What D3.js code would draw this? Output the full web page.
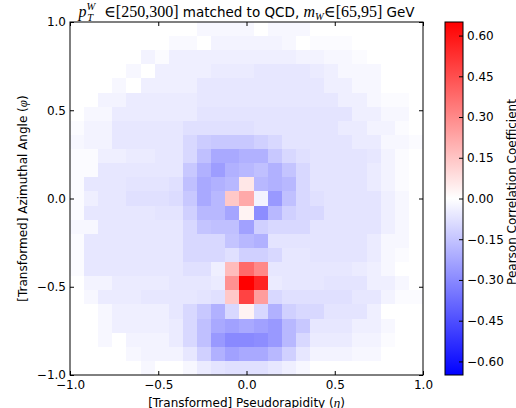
<!DOCTYPE html>
<html>
<head>
<meta charset="utf-8">
<script src="https://cdn.jsdelivr.net/npm/d3@7"></script>
<style>
  html, body { margin: 0; padding: 0; background: #ffffff; }
  svg { display: block; }
  text { font-family: "DejaVu Sans", sans-serif; fill: #000; }
</style>
</head>
<body>
<svg id="chart" width="516" height="408"></svg>
<script>
// ---- data (rows from top: phi = +1 down to phi = -1; columns eta = -1 .. +1) ----
const nBins = 25;
const row00 = [0,0,0,0,0,0,0,0,0,-0.02,-0.02,-0.02,-0.02,0,-0.02,-0.02,-0.02,0,0,0,0,0,0,0,0];
const row01 = [0,0,0,0,0,0,0,-0.015,-0.015,0,-0.03,-0.03,-0.03,-0.03,-0.03,-0.02,0,-0.01,-0.01,-0.01,0,0,0,0,0];
const row02 = [0,0,0,0,0,-0.03,-0.01,-0.04,-0.04,-0.04,-0.04,-0.04,-0.04,-0.04,-0.04,-0.04,-0.03,-0.03,-0.02,-0.02,-0.01,0,0,0,0];
const row03 = [0,0,0,0,-0.02,0,-0.04,-0.04,-0.04,-0.04,-0.05,-0.05,-0.05,-0.06,-0.06,-0.06,-0.06,-0.05,-0.04,-0.02,-0.02,-0.02,0,0,0];
const row04 = [0,0,0,-0.02,0,-0.04,-0.04,-0.04,-0.04,-0.06,-0.06,-0.06,-0.06,-0.06,-0.06,-0.06,-0.06,-0.06,-0.04,-0.04,-0.02,-0.02,0,0,0];
const row05 = [0,0,-0.03,-0.03,-0.05,-0.05,-0.05,-0.05,-0.05,-0.06,-0.06,-0.06,-0.06,-0.06,-0.06,-0.06,-0.06,-0.06,-0.06,-0.04,-0.04,-0.02,-0.01,-0.01,0];
const row06 = [0,-0.02,-0.02,-0.05,-0.05,-0.05,-0.05,-0.05,-0.05,-0.07,-0.07,-0.07,-0.07,-0.07,-0.07,-0.07,-0.07,-0.07,-0.07,-0.07,-0.04,-0.04,-0.02,-0.02,0];
const row07 = [-0.01,-0.03,-0.03,-0.06,-0.06,-0.06,-0.06,-0.06,-0.08,-0.08,-0.08,-0.08,-0.08,-0.07,-0.07,-0.07,-0.07,-0.07,-0.07,-0.05,-0.05,-0.03,-0.03,-0.01,0];
const row08 = [-0.02,-0.03,-0.03,-0.06,-0.06,-0.06,-0.06,-0.06,-0.1,-0.13,-0.14,-0.14,-0.14,-0.12,-0.1,-0.07,-0.07,-0.07,-0.07,-0.07,-0.05,-0.05,-0.02,-0.02,-0.01];
const row09 = [-0.01,-0.01,-0.04,-0.04,-0.05,-0.05,-0.06,-0.06,-0.1,-0.16,-0.22,-0.22,-0.2,-0.2,-0.14,-0.1,-0.08,-0.07,-0.07,-0.07,-0.07,-0.06,-0.03,-0.01,0];
const row10 = [-0.01,-0.01,-0.06,-0.06,-0.06,-0.06,-0.06,-0.06,-0.14,-0.2,-0.25,-0.2,-0.18,-0.16,-0.2,-0.15,-0.1,-0.07,-0.07,-0.07,-0.07,-0.05,-0.03,-0.01,0];
const row11 = [-0.01,-0.06,-0.06,-0.06,-0.07,-0.07,-0.07,-0.08,-0.16,-0.22,-0.2,-0.18,0.06,-0.18,-0.2,-0.18,-0.1,-0.07,-0.07,-0.07,-0.07,-0.05,-0.03,-0.01,0];
const row12 = [-0.01,-0.04,-0.06,-0.06,-0.08,-0.08,-0.08,-0.09,-0.14,-0.22,-0.18,0.14,0.22,-0.03,-0.26,-0.16,-0.1,-0.08,-0.07,-0.07,-0.07,-0.07,-0.04,-0.02,0];
const row13 = [-0.01,-0.06,-0.06,-0.06,-0.06,-0.06,-0.07,-0.07,-0.12,-0.18,-0.18,-0.23,0.03,-0.29,-0.18,-0.12,-0.1,-0.1,-0.07,-0.07,-0.07,-0.07,-0.04,-0.02,0];
const row14 = [-0.02,-0.02,-0.06,-0.06,-0.06,-0.06,-0.06,-0.06,-0.1,-0.15,-0.16,-0.16,-0.24,-0.12,-0.1,-0.1,-0.1,-0.07,-0.07,-0.07,-0.07,-0.07,-0.04,-0.02,0];
const row15 = [-0.01,-0.06,-0.06,-0.06,-0.06,-0.06,-0.06,-0.06,-0.1,-0.1,-0.1,-0.15,-0.18,-0.2,-0.07,-0.07,-0.07,-0.07,-0.07,-0.07,-0.07,-0.05,-0.02,-0.02,0];
const row16 = [-0.01,-0.06,-0.06,-0.06,-0.06,-0.06,-0.06,-0.06,-0.1,-0.1,-0.1,-0.08,-0.12,-0.12,-0.1,-0.06,-0.06,-0.07,-0.07,-0.07,-0.07,-0.05,-0.02,-0.01,0];
const row17 = [-0.01,-0.06,-0.06,-0.06,-0.06,-0.06,-0.06,-0.06,-0.08,-0.08,-0.04,0.17,0.38,0.3,-0.06,-0.06,-0.06,-0.06,-0.06,-0.06,-0.05,-0.04,-0.02,0,0];
const row18 = [0,-0.03,-0.03,-0.05,-0.05,-0.05,-0.05,-0.06,-0.06,-0.06,-0.05,0.28,0.65,0.56,-0.05,-0.06,-0.06,-0.06,-0.07,-0.07,-0.07,-0.04,-0.04,-0.02,0];
const row19 = [0,-0.02,-0.05,-0.05,-0.05,-0.06,-0.06,-0.06,-0.06,-0.07,-0.08,0.14,0.48,0.25,-0.1,-0.08,-0.08,-0.08,-0.08,-0.08,-0.06,-0.06,-0.03,-0.01,-0.01];
const row20 = [0,0,-0.02,-0.04,-0.04,-0.04,-0.04,-0.06,-0.1,-0.14,-0.2,-0.1,0.03,-0.1,-0.2,-0.12,-0.1,-0.1,-0.07,-0.07,-0.07,-0.04,0,0,0];
const row21 = [0,0,-0.02,-0.04,-0.04,-0.04,-0.04,-0.05,-0.1,-0.16,-0.22,-0.24,-0.22,-0.24,-0.26,-0.18,-0.14,-0.06,-0.06,-0.06,-0.04,-0.04,-0.02,0,0];
const row22 = [0,0,-0.02,0,-0.03,-0.03,-0.03,-0.05,-0.1,-0.16,-0.26,-0.3,-0.3,-0.29,-0.26,-0.18,-0.1,-0.05,-0.05,-0.05,-0.03,-0.03,-0.01,0,0];
const row23 = [0,0,0,0,-0.02,-0.03,-0.03,-0.03,-0.06,-0.12,-0.2,-0.24,-0.22,-0.22,-0.18,-0.12,-0.06,-0.03,-0.03,-0.03,-0.02,-0.02,0,0,0];
const row24 = [0,0,0,0,0,-0.02,0,0,-0.02,-0.05,-0.07,-0.08,-0.08,-0.08,-0.06,-0.04,-0.02,0,0,0,0,0,0,0,0];
const correlation = [row00,row01,row02,row03,row04,row05,row06,row07,row08,row09,row10,row11,row12,
                     row13,row14,row15,row16,row17,row18,row19,row20,row21,row22,row23,row24];

const axisTicks = [-1.0, -0.5, 0.0, 0.5, 1.0];
const axisTickLabels = ["\u22121.0", "\u22120.5", "0.0", "0.5", "1.0"];
const cbarTicks = [-0.60, -0.45, -0.30, -0.15, 0.00, 0.15, 0.30, 0.45, 0.60];
const cbarTickLabels = ["\u22120.60", "\u22120.45", "\u22120.30", "\u22120.15", "0.00", "0.15", "0.30", "0.45", "0.60"];
const colorLimit = 0.65;
const xLabel = "[Transformed] Pseudorapidity (";
const yLabel = "[Transformed] Azimuthal Angle (";
const cbarLabel = "Pearson Correlation Coefficient";

// ---- layout ----
const svg = d3.select("#chart");
const L = 70, R = 423, T = 22, B = 375;
const x = d3.scaleLinear().domain([-1, 1]).range([L, R]);
const y = d3.scaleLinear().domain([-1, 1]).range([B, T]);
const color = d3.scaleLinear().domain([-colorLimit, 0, colorLimit])
  .range(["#0000ff", "#ffffff", "#ff0000"]).clamp(true);

svg.append("rect").attr("width", 516).attr("height", 408).attr("fill", "#fff");

// cells
const cells = [];
correlation.forEach((row, r) => row.forEach((v, c) => cells.push({r, c, v})));
const edge = i => -1 + 2 * i / nBins;
svg.append("g").selectAll("rect").data(cells).join("rect")
  .attr("x", d => x(edge(d.c)))
  .attr("y", d => y(edge(nBins - d.r)))
  .attr("width", d => x(edge(d.c + 1)) - x(edge(d.c)) + 0.3)
  .attr("height", d => y(edge(nBins - d.r - 1)) - y(edge(nBins - d.r)) + 0.3)
  .attr("fill", d => color(d.v))
  .attr("shape-rendering", "crispEdges");

// axes
const fmtX = (d, i) => axisTickLabels[i];
const gB = svg.append("g").attr("transform", `translate(0,${B})`)
  .call(d3.axisBottom(x).tickValues(axisTicks).tickFormat(fmtX).tickSize(-4).tickPadding(5.5).tickSizeOuter(0));
const gL = svg.append("g").attr("transform", `translate(${L},0)`)
  .call(d3.axisLeft(y).tickValues(axisTicks).tickFormat(fmtX).tickSize(-4).tickPadding(4).tickSizeOuter(0));
const gT = svg.append("g").attr("transform", `translate(0,${T})`)
  .call(d3.axisTop(x).tickValues(axisTicks).tickFormat("").tickSize(-4).tickSizeOuter(0));
const gR = svg.append("g").attr("transform", `translate(${R},0)`)
  .call(d3.axisRight(y).tickValues(axisTicks).tickFormat("").tickSize(-4).tickSizeOuter(0));
[gB, gL, gT, gR].forEach(g => {
  g.select(".domain").remove();
  g.selectAll("line").attr("stroke", "#000").attr("stroke-width", 1);
  g.selectAll("text").attr("font-size", 12).attr("font-family", "DejaVu Sans").attr("fill", "#000");
});
svg.append("rect").attr("x", L).attr("y", T).attr("width", R - L).attr("height", B - T)
  .attr("fill", "none").attr("stroke", "#000").attr("stroke-width", 1);

// title
const title = svg.append("text").attr("x", (L + R) / 2).attr("y", 17)
  .attr("text-anchor", "middle").attr("font-size", 13.5);
const serif = "Liberation Serif, DejaVu Serif, serif";
title.append("tspan").attr("font-family", serif).attr("font-style", "italic").attr("font-size", 16).text("p");
title.append("tspan").attr("font-family", serif).attr("font-style", "italic").attr("font-size", 10.5).attr("dy", -7).text("W");
title.append("tspan").attr("font-family", serif).attr("font-style", "italic").attr("font-size", 10.5).attr("dx", -8).attr("dy", 11).text("T");
title.append("tspan").attr("font-family", serif).attr("font-size", 16).attr("dx", 11).attr("dy", -4).text("\u2208[250,300]");
title.append("tspan").attr("dx", 0).text(" matched to QCD, ");
title.append("tspan").attr("font-family", serif).attr("font-style", "italic").attr("font-size", 16).text("m");
title.append("tspan").attr("font-family", serif).attr("font-style", "italic").attr("font-size", 10.5).attr("dy", 3).text("W");
title.append("tspan").attr("font-family", serif).attr("font-size", 16).attr("dy", -3).text("\u2208[65,95]");
title.append("tspan").text(" GeV");

// axis labels
const xl = svg.append("text").attr("x", (L + R) / 2).attr("y", 406.5)
  .attr("text-anchor", "middle").attr("font-size", 12).text(xLabel);
xl.append("tspan").attr("font-family", serif).attr("font-style", "italic").attr("font-size", 13).text("\u03b7");
xl.append("tspan").text(")");

const yl = svg.append("text").attr("transform", `translate(27,${(T + B) / 2}) rotate(-90)`)
  .attr("text-anchor", "middle").attr("font-size", 12).text(yLabel);
yl.append("tspan").attr("font-family", serif).attr("font-style", "italic").attr("font-size", 13).text("\u03c6");
yl.append("tspan").text(")");

// colorbar
const CX = 445, CW = 18;
const cy = d3.scaleLinear().domain([-colorLimit, colorLimit]).range([B, T]);
const defs = svg.append("defs");
const grad = defs.append("linearGradient").attr("id", "bwr")
  .attr("x1", 0).attr("y1", 1).attr("x2", 0).attr("y2", 0);
grad.append("stop").attr("offset", "0%").attr("stop-color", color(-colorLimit));
grad.append("stop").attr("offset", "50%").attr("stop-color", color(0));
grad.append("stop").attr("offset", "100%").attr("stop-color", color(colorLimit));
svg.append("rect").attr("x", CX).attr("y", T).attr("width", CW).attr("height", B - T)
  .attr("fill", "url(#bwr)").attr("stroke", "#000").attr("stroke-width", 1);
const gC = svg.append("g").attr("transform", `translate(${CX + CW},0)`)
  .call(d3.axisRight(cy).tickValues(cbarTicks).tickFormat((d, i) => cbarTickLabels[i])
        .tickSize(-4).tickPadding(4).tickSizeOuter(0));
gC.select(".domain").remove();
gC.selectAll("line").attr("stroke", "#000");
gC.selectAll("text").attr("font-size", 12).attr("font-family", "DejaVu Sans").attr("fill", "#000");

svg.append("text").attr("transform", `translate(516,192) rotate(-90)`)
  .attr("text-anchor", "middle").attr("font-size", 12).text(cbarLabel);
</script>
</body>
</html>
